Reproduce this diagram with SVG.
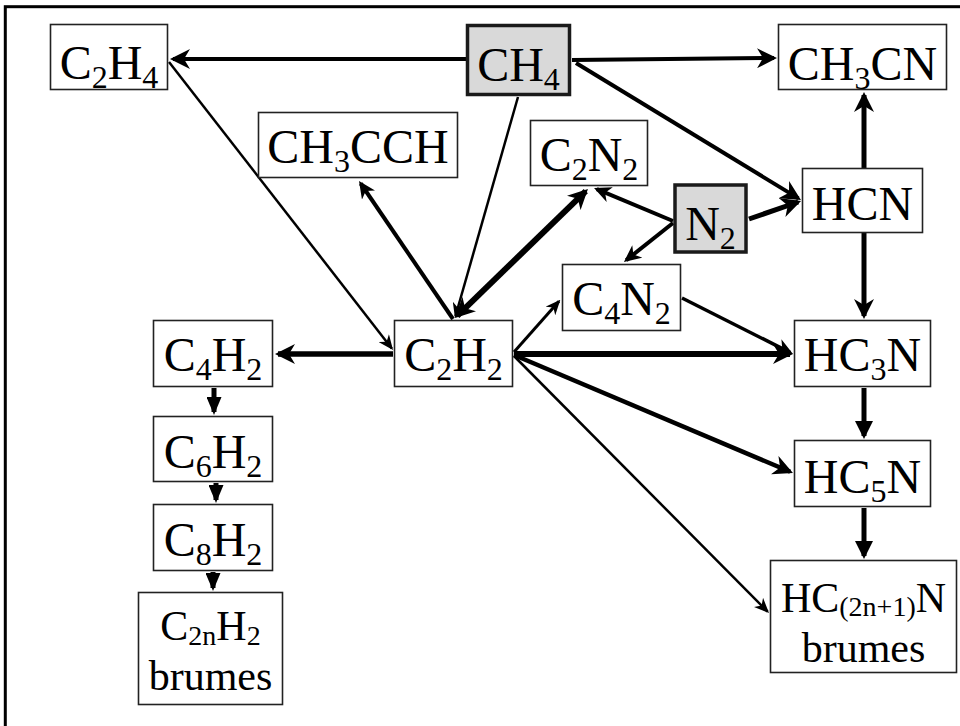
<svg xmlns="http://www.w3.org/2000/svg" width="960" height="726" viewBox="0 0 960 726">
<style>
.box{fill:#fff;stroke:#222;stroke-width:1.6}
.src{fill:#d9d9d9;stroke:#1a1a1a;stroke-width:3.5}
.t{font-family:"Liberation Serif","Times New Roman",serif;font-size:48px;fill:#000;text-anchor:middle}
.t2{font-family:"Liberation Serif","Times New Roman",serif;font-size:42px;fill:#000;text-anchor:middle}
.s{font-size:32px}
.s2{font-size:28px}
.c line{stroke:#000;fill:none}
</style>
<defs>
<marker id="sb" viewBox="0 0 20 20" markerWidth="20" markerHeight="20" refX="17" refY="10" orient="auto-start-reverse" markerUnits="userSpaceOnUse"><path d="M0,0 L20,10 L0,20 L6,10 z" fill="#000"/></marker>
<marker id="sm" viewBox="0 0 17 16" markerWidth="17" markerHeight="16" refX="14" refY="8" orient="auto" markerUnits="userSpaceOnUse"><path d="M0,0 L17,8 L0,16 L5,8 z" fill="#000"/></marker>
<marker id="ss" viewBox="0 0 15 13" markerWidth="15" markerHeight="13" refX="13" refY="6.5" orient="auto" markerUnits="userSpaceOnUse"><path d="M0,0 L15,6.5 L0,13 L4.5,6.5 z" fill="#000"/></marker>
<marker id="tb" viewBox="0 0 18 18" markerWidth="18" markerHeight="18" refX="15" refY="9" orient="auto" markerUnits="userSpaceOnUse"><path d="M0,0 L18,9 L0,18 z" fill="#000"/></marker>
<marker id="ts" viewBox="0 0 18 15" markerWidth="18" markerHeight="15" refX="15" refY="7.5" orient="auto" markerUnits="userSpaceOnUse"><path d="M0,0 L18,7.5 L0,15 z" fill="#000"/></marker>
</defs>
<rect x="5.3" y="6.7" width="1000" height="1000" fill="none" stroke="#000" stroke-width="3"/>

<g class="c" id="connectors">
<line x1="466" y1="59" x2="173" y2="59" stroke-width="4" marker-end="url(#sb)"/>
<line x1="572" y1="60" x2="774" y2="58" stroke-width="4" marker-end="url(#sb)"/>
<line x1="576" y1="63" x2="798.4" y2="198.4" stroke-width="4" marker-end="url(#sb)"/>
<line x1="518" y1="97" x2="455.5" y2="316" stroke-width="2.5" marker-end="url(#ss)"/>
<line x1="169" y1="62" x2="391.8" y2="348.4" stroke-width="2.5" marker-end="url(#ss)"/>
<line x1="453" y1="319" x2="360.7" y2="183.5" stroke-width="4" marker-end="url(#sm)"/>
<line x1="457.2" y1="315.9" x2="585.8" y2="191.1" stroke-width="6" marker-start="url(#sb)" marker-end="url(#sb)"/>
<line x1="673" y1="221" x2="596.8" y2="189.2" stroke-width="4" marker-end="url(#sm)"/>
<line x1="673" y1="223" x2="626.3" y2="260.1" stroke-width="4" marker-end="url(#sm)"/>
<line x1="749" y1="219" x2="798.2" y2="202" stroke-width="5" marker-end="url(#sb)"/>
<line x1="864" y1="168" x2="864" y2="95" stroke-width="5" marker-end="url(#sb)"/>
<line x1="864" y1="233" x2="864" y2="316" stroke-width="5" marker-end="url(#sb)"/>
<line x1="514" y1="352" x2="559" y2="301.2" stroke-width="3" marker-end="url(#ss)"/>
<line x1="682" y1="298" x2="790.3" y2="352.6" stroke-width="3.5" marker-end="url(#sm)"/>
<line x1="514" y1="354" x2="790" y2="354" stroke-width="6" marker-end="url(#sb)"/>
<line x1="514" y1="355" x2="790.2" y2="471.8" stroke-width="4.5" marker-end="url(#sb)"/>
<line x1="514" y1="356" x2="767.6" y2="611.6" stroke-width="2.5" marker-end="url(#ss)"/>
<line x1="393" y1="354" x2="278" y2="354" stroke-width="5.5" marker-end="url(#sb)"/>
<line x1="214" y1="388" x2="214" y2="412" stroke-width="5" marker-end="url(#ts)"/>
<line x1="216" y1="483" x2="216" y2="500" stroke-width="5" marker-end="url(#ts)"/>
<line x1="213" y1="572" x2="213" y2="588" stroke-width="5" marker-end="url(#ts)"/>
<line x1="864" y1="388" x2="864" y2="436" stroke-width="5" marker-end="url(#tb)"/>
<line x1="864" y1="508" x2="864" y2="556" stroke-width="5" marker-end="url(#tb)"/>
</g>

<g id="C2H4"><rect class="box" x="50.5" y="24.5" width="117" height="65"/><text class="t" x="109" y="79">C<tspan class="s" dy="9">2</tspan><tspan dy="-9">H</tspan><tspan class="s" dy="9">4</tspan></text></g>
<g id="CH4"><rect class="src" x="467.5" y="25.5" width="102" height="69"/><text class="t" x="518.5" y="81">CH<tspan class="s" dy="9">4</tspan></text></g>
<g id="CH3CN"><rect class="box" x="778.5" y="24.5" width="168" height="65"/><text class="t" x="862.5" y="80">CH<tspan class="s" dy="9">3</tspan><tspan dy="-9">CN</tspan></text></g>
<g id="CH3CCH"><rect class="box" x="258.5" y="112.5" width="199" height="65"/><text class="t" x="358" y="163">CH<tspan class="s" dy="9">3</tspan><tspan dy="-9">CCH</tspan></text></g>
<g id="C2N2"><rect class="box" x="530.5" y="120.5" width="117" height="65"/><text class="t" x="589" y="171">C<tspan class="s" dy="9">2</tspan><tspan dy="-9">N</tspan><tspan class="s" dy="9">2</tspan></text></g>
<g id="N2"><rect class="src" x="675" y="185" width="71" height="67"/><text class="t" x="710.5" y="240">N<tspan class="s" dy="9">2</tspan></text></g>
<g id="HCN"><rect class="box" x="802.5" y="168.5" width="120" height="64"/><text class="t" x="862.5" y="220">HCN</text></g>
<g id="C4N2"><rect class="box" x="562.5" y="264.5" width="118" height="66"/><text class="t" x="621.5" y="315">C<tspan class="s" dy="9">4</tspan><tspan dy="-9">N</tspan><tspan class="s" dy="9">2</tspan></text></g>
<g id="C2H2"><rect class="box" x="394.5" y="320.5" width="118" height="66"/><text class="t" x="453.5" y="371">C<tspan class="s" dy="9">2</tspan><tspan dy="-9">H</tspan><tspan class="s" dy="9">2</tspan></text></g>
<g id="C4H2"><rect class="box" x="153.5" y="320.5" width="119" height="66"/><text class="t" x="213" y="371">C<tspan class="s" dy="9">4</tspan><tspan dy="-9">H</tspan><tspan class="s" dy="9">2</tspan></text></g>
<g id="HC3N"><rect class="box" x="794.5" y="320.5" width="136" height="66"/><text class="t" x="862.5" y="371">HC<tspan class="s" dy="9">3</tspan><tspan dy="-9">N</tspan></text></g>
<g id="HC5N"><rect class="box" x="794.5" y="440.5" width="136" height="66"/><text class="t" x="862.5" y="493">HC<tspan class="s" dy="9">5</tspan><tspan dy="-9">N</tspan></text></g>
<g id="C6H2"><rect class="box" x="153.5" y="416.5" width="119" height="65"/><text class="t" x="213" y="468">C<tspan class="s" dy="9">6</tspan><tspan dy="-9">H</tspan><tspan class="s" dy="9">2</tspan></text></g>
<g id="C8H2"><rect class="box" x="153.5" y="504.5" width="119" height="66"/><text class="t" x="213" y="556">C<tspan class="s" dy="9">8</tspan><tspan dy="-9">H</tspan><tspan class="s" dy="9">2</tspan></text></g>
<g id="C2nH2"><rect class="box" x="138.5" y="592.5" width="144" height="112"/><text class="t2" x="210.5" y="640">C<tspan class="s2" dy="5">2n</tspan><tspan dy="-5">H</tspan><tspan class="s2" dy="5">2</tspan></text><text class="t2" x="210.5" y="690">brumes</text></g>
<g id="HC2n1N"><rect class="box" x="770.5" y="560.5" width="186" height="112"/><text class="t2" x="863.5" y="612">HC<tspan class="s2" dy="4">(2n+1)</tspan><tspan dy="-4">N</tspan></text><text class="t2" x="863.5" y="662">brumes</text></g>
</svg>
